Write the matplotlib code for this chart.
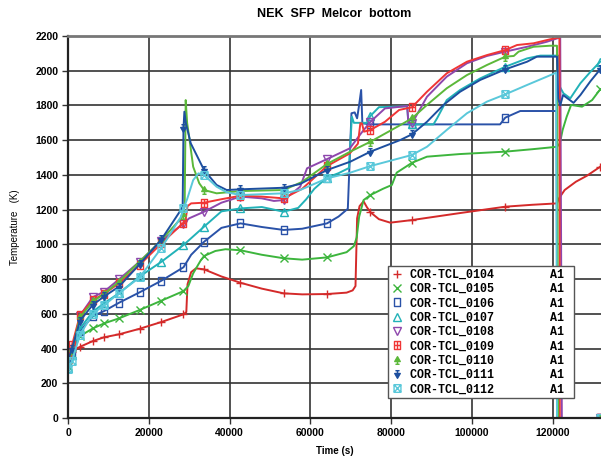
import numpy as np
import matplotlib
matplotlib.use("Agg")
import matplotlib.pyplot as plt
from matplotlib.path import Path
from matplotlib.lines import Line2D

# time (s) / temperature (K) for each thermocouple
t_0104 = [0, 1000, 2970, 6150, 8950, 12650, 17750, 23150, 28600, 29300, 29600, 30500, 31700, 33700, 38000, 42700,
          48000, 53400, 58000, 64150, 69000, 70500, 71200, 71600, 72200, 73200, 74000, 74900, 77000, 79800, 85200,
          97000, 108300, 115000, 121100, 121600, 123000, 125800, 128500, 131800]
T_0104 = [345, 380, 410, 443, 465, 482, 514, 553, 597, 610, 770, 840, 862, 856, 815, 779,
          745, 718, 712, 714, 722, 735, 760, 1150, 1220, 1248, 1215, 1185, 1145, 1125, 1140,
          1180, 1217, 1228, 1236, 1265, 1313, 1361, 1395, 1447]

t_0105 = [0, 1000, 2970, 6150, 8950, 12650, 17750, 23150, 28600, 29800, 31000, 32800, 33700, 36500, 39000, 42700,
          48000, 53400, 58000, 64150, 69000, 70800, 71500, 72100, 73200, 74900, 78000, 80200, 81400, 85200, 88900,
          97000, 108300, 115000, 121100, 121800, 122500, 123500, 124600, 127300, 129800, 131800]
T_0105 = [300, 370, 472, 516, 545, 574, 622, 676, 731, 760, 833, 905, 933, 962, 972, 966,
          940, 920, 912, 925, 955, 990, 1040, 1159, 1255, 1284, 1320, 1342, 1413, 1470, 1505,
          1520, 1534, 1548, 1562, 1581, 1659, 1735, 1803, 1793, 1831, 1893]

t_0106 = [0, 1000, 2970, 6150, 8950, 12650, 17750, 23150, 28600, 30500, 33700, 38000, 42700, 48000, 53400, 58000,
          64150, 67000, 69300, 69700, 70200, 71000, 71600, 72100, 72600, 72900, 74900, 80000, 85200, 100000, 107000,
          108300, 112000, 121000, 121200, 131800]
T_0106 = [320, 370, 500, 587, 616, 664, 724, 791, 868, 940, 1015, 1095, 1121, 1100, 1083, 1090,
          1121, 1160, 1205, 1450, 1755, 1760, 1726, 1803, 1889, 1697, 1691, 1691, 1691, 1691, 1691,
          1730, 1768, 1768, 0, 0]

t_0107 = [0, 1000, 2970, 6150, 8950, 12650, 17750, 23150, 28600, 33700, 38000, 42700, 48000, 53400, 57000, 59000,
          61000, 64150, 67000, 69600, 70300, 70800, 72000, 74000, 74900, 77000, 84000, 84300, 85200, 90500, 91400,
          93800, 97100, 102100, 108300, 113700, 117000, 121500, 121800, 122700, 124400, 126900, 129400, 131800]
T_0107 = [290, 360, 515, 613, 661, 719, 815, 900, 996, 1102, 1190, 1207, 1215, 1188, 1210, 1260,
          1320, 1385, 1410, 1440, 1735, 1700, 1700, 1700, 1740, 1790, 1795, 1695, 1691, 1691, 1726,
          1831, 1889, 1956, 2023, 2071, 2087, 2087, 1908, 1870, 1841, 1928, 1994, 2052]

t_0108 = [0, 1000, 2970, 6150, 8950, 12650, 17750, 23150, 28600, 30000, 33700, 38000, 42700, 48000, 51000, 53400,
          57500, 59200, 64150, 69800, 72600, 74900, 78500, 84000, 84300, 85200, 88900, 93800, 98800, 103750, 108300,
          113700, 118600, 121900, 122300, 131800]
T_0108 = [310, 380, 590, 696, 728, 799, 901, 1020, 1120, 1150, 1188, 1240, 1275, 1265, 1250, 1255,
          1332, 1438, 1491, 1553, 1640, 1706, 1783, 1797, 1700, 1697, 1850, 1966, 2043, 2085, 2110,
          2138, 2167, 2192, 0, 0]

t_0109 = [0, 1000, 2970, 6150, 8950, 12650, 17750, 23150, 28600, 29100, 29600, 30500, 33700, 38000, 42700, 48000,
          53400, 58000, 64150, 69800, 71800, 72400, 72800, 73300, 74900, 78500, 82000, 85200, 88900, 93800, 98800,
          103750, 108300, 111200, 115300, 119400, 121700, 121800, 131800]
T_0109 = [340, 420, 593, 680, 715, 776, 882, 1006, 1125, 1135, 1220, 1236, 1240, 1260, 1280, 1275,
          1265, 1320, 1451, 1524, 1580, 1697, 1697, 1649, 1659, 1706, 1774, 1790, 1879, 1985, 2052,
          2090, 2119, 2148, 2158, 2181, 2192, 0, 0]

t_0110 = [0, 1000, 2970, 6150, 8950, 12650, 17750, 23150, 28000, 28600, 28900, 29150, 29500, 30000, 31000, 32500,
          33700, 36800, 42700, 53400, 58000, 64150, 69900, 74900, 82300, 85200, 88900, 93800, 98800, 103750, 108300,
          110400, 111600, 115300, 119400, 121100, 121400, 131800]
T_0110 = [310, 390, 580, 671, 715, 786, 901, 1025, 1150, 1170, 1230, 1831, 1700, 1620, 1447, 1352,
          1313, 1294, 1307, 1313, 1360, 1463, 1534, 1591, 1687, 1726, 1803, 1899, 1975, 2033, 2081,
          2085, 2110, 2138, 2144, 2144, 0, 0]

t_0111 = [0, 1000, 2970, 6150, 8950, 12650, 17750, 23150, 28000, 28400, 28600, 28820, 29200, 30400, 33700, 36800,
          39300, 42700, 53400, 57500, 64150, 69900, 74900, 82300, 85200, 88900, 93000, 97100, 102100, 108300, 113700,
          116100, 121100, 121400, 121900, 122600, 125200, 126900, 129400, 131800]
T_0111 = [330, 400, 560, 652, 700, 757, 886, 1029, 1200, 1230, 1668, 1764, 1697, 1582, 1428, 1342,
          1313, 1317, 1326, 1348, 1428, 1476, 1534, 1601, 1634, 1706, 1803, 1879, 1947, 2008, 2052,
          2081, 2081, 1840, 1800, 1860, 1815, 1860, 1940, 2008]

t_0112 = [0, 1000, 2970, 6150, 8950, 12650, 17750, 23150, 28000, 28600, 29500, 31000, 32300, 33700, 36800, 39300,
          42700, 53400, 57500, 64150, 69900, 74900, 85200, 88900, 93800, 98800, 103750, 108300, 113700, 118600, 120900,
          121100, 131800]
T_0112 = [280, 330, 480, 600, 650, 719, 810, 980, 1160, 1207, 1260, 1370, 1409, 1399, 1332, 1300,
          1284, 1294, 1313, 1380, 1413, 1451, 1515, 1562, 1659, 1755, 1822, 1864, 1918, 1966, 1989,
          0, 0]

# output times where the plot symbols sit
mark_t = [0, 1000, 2970, 6150, 8950, 12650, 17750, 23150, 28600, 33700, 42700, 53400, 64150, 74900, 85200,
          108300, 131800]

names = ["COR-TCL_0104", "COR-TCL_0105", "COR-TCL_0106", "COR-TCL_0107", "COR-TCL_0108",
         "COR-TCL_0109", "COR-TCL_0110", "COR-TCL_0111", "COR-TCL_0112"]


def mk(parts):
    verts, codes = [], []
    for pts, closed in parts:
        verts += pts
        codes += [Path.MOVETO] + [Path.LINETO] * (len(pts) - 1)
        if closed:
            verts.append(pts[0])
            codes.append(Path.CLOSEPOLY)
    return Path(verts, codes)


rect = [(-0.35, -0.5), (0.35, -0.5), (0.35, 0.5), (-0.35, 0.5)]
sq = [(-0.45, -0.5), (0.45, -0.5), (0.45, 0.5), (-0.45, 0.5)]
m_rect = mk([(rect, True)])
m_boxplus = mk([(sq, True), ([(0, -0.5), (0, 0.5)], False), ([(-0.45, 0), (0.45, 0)], False)])
m_tree = mk([([(-0.4, -0.15), (0.4, -0.15), (0, 0.55)], True), ([(0, -0.15), (0, -0.55)], False),
             ([(-0.3, -0.55), (0.3, -0.55)], False)])
m_psi = mk([([(-0.4, 0.15), (0.4, 0.15), (0, -0.55)], True), ([(0, 0.15), (0, 0.55)], False),
            ([(-0.3, 0.55), (0.3, 0.55)], False)])
m_hour = mk([(sq, True), ([(-0.45, 0.5), (0.45, -0.5)], False), ([(-0.45, -0.5), (0.45, 0.5)], False)])

series = [
    (t_0104, T_0104, "#d42a2a", "+", None),
    (t_0105, T_0105, "#3db53d", "x", None),
    (t_0106, T_0106, "#2a52a8", m_rect, "none"),
    (t_0107, T_0107, "#22b2b8", "^", "none"),
    (t_0108, T_0108, "#8e47ad", "v", "none"),
    (t_0109, T_0109, "#f03535", m_boxplus, "none"),
    (t_0110, T_0110, "#5cb83a", m_tree, None),
    (t_0111, T_0111, "#1d4f9f", m_psi, None),
    (t_0112, T_0112, "#5ac8da", m_hour, "none"),
]

fig = plt.figure(figsize=(6.01, 4.61), dpi=100)
ax = fig.add_axes([68 / 601, 1 - 418 / 461, (601 - 68) / 601, (418 - 36) / 461])

handles = []
for (t, T, c, m, fc), name in zip(series, names):
    idx = [i for i, v in enumerate(t) if v in mark_t]
    kw = dict(color=c, marker=m, markersize=5.5, markeredgewidth=1.0)
    if fc is not None:
        kw["markerfacecolor"] = fc
    ax.plot(t, T, lw=1.4, markevery=idx, **kw)
    handles.append(Line2D([], [], ls="none", label=name + " " * 8 + "A1\u00a0", **kw))

ax.set_xlim(0, 132000)
ax.set_ylim(0, 2200)
ax.set_xticks(np.arange(0, 120001, 20000))
ax.set_yticks(np.arange(0, 2201, 200))
ax.grid(True, color="#333333", lw=1.2)
ax.set_axisbelow(True)

lab_font = dict(family=["Liberation Sans Narrow", "Liberation Sans"], weight="bold", size=7.5)
for lb in ax.get_xticklabels() + ax.get_yticklabels():
    lb.set_fontproperties(matplotlib.font_manager.FontProperties(**lab_font))
ax.tick_params(direction="out", length=4, width=1, color="#333333", pad=3)

ax.spines["right"].set_visible(False)
ax.spines["top"].set_color("#777777")
ax.spines["top"].set_linewidth(2)
ax.spines["left"].set_color("#222222")
ax.spines["left"].set_linewidth(1.6)
ax.spines["bottom"].set_color("#222222")
ax.spines["bottom"].set_linewidth(1.6)

fig.text(334.5 / 601, 1 - 14 / 461, "NEK  SFP  Melcor  bottom", ha="center", va="center",
         family=["Liberation Sans Narrow", "Liberation Sans"], weight="bold", size=9)
fig.text(15 / 601, 1 - 227 / 461, "Temperature   (K)", rotation=90, ha="center", va="center",
         family=["Liberation Sans Narrow", "Liberation Sans"], size=7)
fig.text(334.5 / 601, 1 - 451 / 461, "Time (s)", ha="center", va="center",
         family=["Liberation Sans Narrow", "Liberation Sans"], weight="bold", size=7)

leg = ax.legend(handles=handles, loc="upper left", bbox_to_anchor=(0.6004, 0.398),
                prop=dict(family="Liberation Mono", weight="bold", size=8.4),
                frameon=True, fancybox=False, framealpha=1, edgecolor="#555555",
                borderaxespad=0, borderpad=0.25, labelspacing=0.2, handlelength=1.0,
                handletextpad=0.6, markerscale=1.0)
leg.get_frame().set_linewidth(1.0)

fig.savefig("out.png", dpi=100)
